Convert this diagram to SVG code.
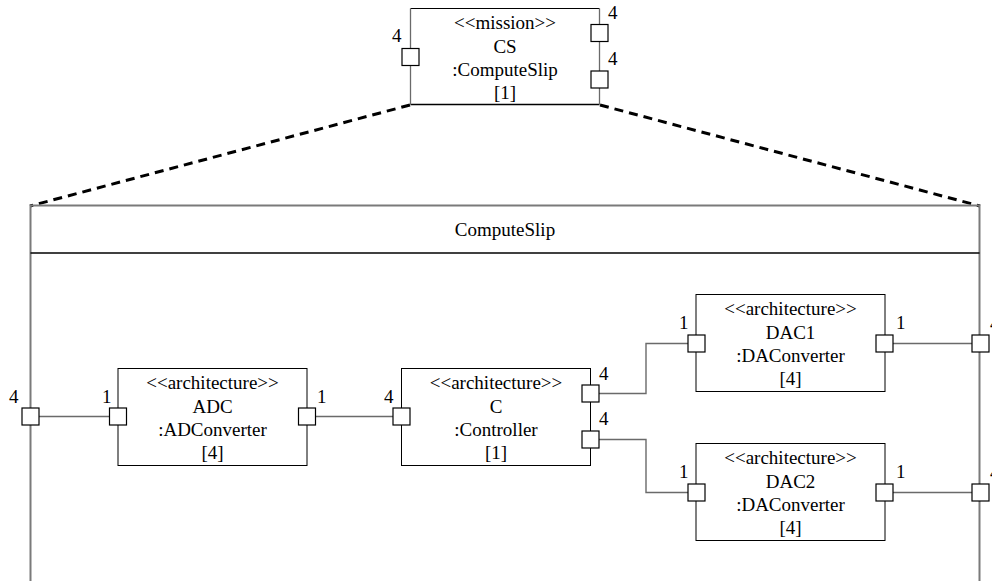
<svg xmlns="http://www.w3.org/2000/svg" width="992" height="581" viewBox="0 0 992 581" font-family="'Liberation Serif', 'Times New Roman', 'DejaVu Serif', serif">
  <style>
    text { font-family: 'Liberation Serif', 'Times New Roman', 'DejaVu Serif', serif; font-size: 19px; fill: #000; }
    .c { text-anchor: middle; }
    .box { fill: #fff; stroke: #000; stroke-width: 1; }
    .port { fill: #fff; stroke: #000; stroke-width: 1.2; }
    .frame { fill: none; stroke: #7a7a7a; stroke-width: 2; }
    .wire { fill: none; stroke: #6a6a6a; stroke-width: 1.4; }
    .zoom { fill: none; stroke: #000; stroke-width: 3; stroke-dasharray: 9 6; }
  </style>

  <!-- decomposition lines from the mission part to its internal structure -->
  <g id="expansion">
    <line class="zoom" x1="410" y1="105" x2="30" y2="206"/>
    <line class="zoom" x1="600" y1="105" x2="980" y2="206"/>
  </g>

  <!-- mission part CS -->
  <g id="cs">
    <line x1="410.5" y1="8.5" x2="599.5" y2="8.5" stroke="#000" stroke-width="1"/>
    <line x1="410.5" y1="104.5" x2="599.5" y2="104.5" stroke="#000" stroke-width="1.3"/>
    <line x1="410.5" y1="8.5" x2="410.5" y2="104.5" stroke="#6a6a6a" stroke-width="1.3"/>
    <line x1="599.5" y1="8.5" x2="599.5" y2="104.5" stroke="#6a6a6a" stroke-width="1.3"/>
    <text class="c" x="505" y="29">&lt;&lt;mission&gt;&gt;</text>
    <text class="c" x="505" y="52.5">CS</text>
    <text class="c" x="505" y="76">:ComputeSlip</text>
    <text class="c" x="505" y="99">[1]</text>
    <rect class="port" x="402" y="48.5" width="17" height="17"/>
    <rect class="port" x="591" y="24.5" width="17" height="17"/>
    <rect class="port" x="591" y="71" width="17" height="17"/>
    <text x="392" y="41.5">4</text>
    <text x="608" y="19">4</text>
    <text x="608" y="65">4</text>
  </g>

  <!-- ComputeSlip frame -->
  <g id="frame">
    <path class="frame" d="M30.5,600 V205.5 H979.5 V600"/>
    <line x1="30.5" y1="253" x2="979.5" y2="253" stroke="#000" stroke-width="1.5"/>
    <text class="c" x="505" y="236">ComputeSlip</text>
  </g>

  <!-- connectors -->
  <g id="connectors">
    <line class="wire" x1="39" y1="416.5" x2="110" y2="416.5"/>
    <line class="wire" x1="315" y1="416.5" x2="393" y2="416.5"/>
    <polyline class="wire" points="599,393.5 646,393.5 646,343.5 688,343.5"/>
    <polyline class="wire" points="599,439.5 646,439.5 646,492.5 688,492.5"/>
    <line class="wire" x1="893" y1="343.5" x2="972" y2="343.5"/>
    <line class="wire" x1="893" y1="492.5" x2="972" y2="492.5"/>
  </g>

  <!-- boundary ports of the frame -->
  <g id="frame-ports">
    <rect class="port" x="22" y="408" width="17" height="17"/>
    <text x="9" y="403">4</text>
    <rect class="port" x="972" y="335" width="17" height="17"/>
    <text x="990" y="330">4</text>
    <rect class="port" x="972" y="484" width="17" height="17"/>
    <text x="990" y="479">4</text>
  </g>

  <!-- ADC -->
  <g id="adc">
    <rect class="box" x="118" y="368.5" width="189" height="97"/>
    <text class="c" x="212.5" y="389">&lt;&lt;architecture&gt;&gt;</text>
    <text class="c" x="212.5" y="412.5">ADC</text>
    <text class="c" x="212.5" y="436">:ADConverter</text>
    <text class="c" x="212.5" y="459">[4]</text>
    <rect class="port" x="109.5" y="408" width="17" height="17"/>
    <rect class="port" x="298.5" y="408" width="17" height="17"/>
    <text x="102" y="403">1</text>
    <text x="317" y="403">1</text>
  </g>

  <!-- C -->
  <g id="controller">
    <rect class="box" x="401.5" y="368.5" width="189" height="97"/>
    <text class="c" x="496" y="389">&lt;&lt;architecture&gt;&gt;</text>
    <text class="c" x="496" y="412.5">C</text>
    <text class="c" x="496" y="436">:Controller</text>
    <text class="c" x="496" y="459">[1]</text>
    <rect class="port" x="393" y="408" width="17" height="17"/>
    <rect class="port" x="582" y="385" width="17" height="17"/>
    <rect class="port" x="582" y="431" width="17" height="17"/>
    <text x="384" y="403">4</text>
    <text x="599" y="379.5">4</text>
    <text x="599" y="425">4</text>
  </g>

  <!-- DAC1 -->
  <g id="dac1">
    <rect class="box" x="696" y="294.5" width="189" height="97"/>
    <text class="c" x="790.5" y="315">&lt;&lt;architecture&gt;&gt;</text>
    <text class="c" x="790.5" y="338.5">DAC1</text>
    <text class="c" x="790.5" y="362">:DAConverter</text>
    <text class="c" x="790.5" y="385">[4]</text>
    <rect class="port" x="688" y="335" width="17" height="17"/>
    <rect class="port" x="876" y="335" width="17" height="17"/>
    <text x="679" y="329">1</text>
    <text x="896" y="329">1</text>
  </g>

  <!-- DAC2 -->
  <g id="dac2">
    <rect class="box" x="696" y="443.5" width="189" height="97"/>
    <text class="c" x="790.5" y="464">&lt;&lt;architecture&gt;&gt;</text>
    <text class="c" x="790.5" y="487.5">DAC2</text>
    <text class="c" x="790.5" y="511">:DAConverter</text>
    <text class="c" x="790.5" y="534">[4]</text>
    <rect class="port" x="688" y="484" width="17" height="17"/>
    <rect class="port" x="876" y="484" width="17" height="17"/>
    <text x="679" y="478">1</text>
    <text x="896" y="478">1</text>
  </g>
</svg>
